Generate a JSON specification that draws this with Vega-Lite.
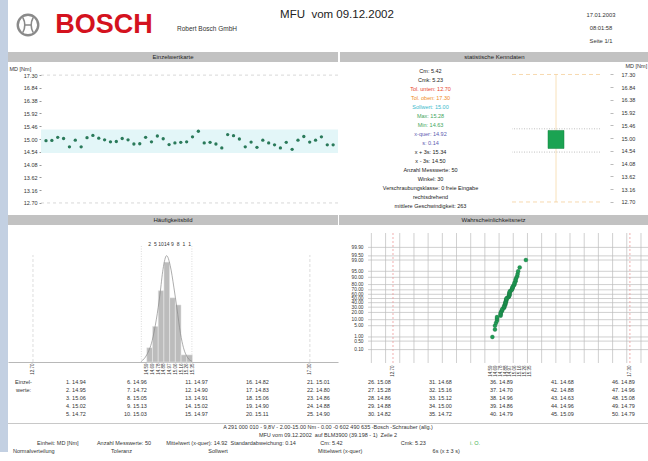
{
"$schema":"https://vega.github.io/schema/vega-lite/v6.json",
"padding":0,
"background":"#ffffff",
"spacing":0,
"config":{
 "view":{"stroke":null},
 "font":"Liberation Sans",
 "text":{"font":"Liberation Sans","color":"#333333"},
 "axis":{"labelFont":"Liberation Sans","titleFont":"Liberation Sans","labelColor":"#333333","titleColor":"#333333","labelFontSize":5.5,"titleFontSize":5.5,"titleFontWeight":"normal","domain":false,"ticks":false,"grid":false,"labelOverlap":false,"labelFlush":false,"labelBound":false,"minExtent":0}
},
"datasets":{
 "mw":[
  {"n":1,"id":"1.","v":14.94},{"n":2,"id":"2.","v":14.95},{"n":3,"id":"3.","v":15.06},{"n":4,"id":"4.","v":15.02},{"n":5,"id":"5.","v":14.72},
  {"n":6,"id":"6.","v":14.96},{"n":7,"id":"7.","v":14.72},{"n":8,"id":"8.","v":15.05},{"n":9,"id":"9.","v":15.13},{"n":10,"id":"10.","v":15.03},
  {"n":11,"id":"11.","v":14.97},{"n":12,"id":"12.","v":14.90},{"n":13,"id":"13.","v":14.91},{"n":14,"id":"14.","v":15.02},{"n":15,"id":"15.","v":14.97},
  {"n":16,"id":"16.","v":14.82},{"n":17,"id":"17.","v":14.83},{"n":18,"id":"18.","v":15.06},{"n":19,"id":"19.","v":14.90},{"n":20,"id":"20.","v":15.11},
  {"n":21,"id":"21.","v":15.01},{"n":22,"id":"22.","v":14.80},{"n":23,"id":"23.","v":14.86},{"n":24,"id":"24.","v":14.88},{"n":25,"id":"25.","v":14.90},
  {"n":26,"id":"26.","v":15.08},{"n":27,"id":"27.","v":15.28},{"n":28,"id":"28.","v":14.86},{"n":29,"id":"29.","v":14.88},{"n":30,"id":"30.","v":14.82},
  {"n":31,"id":"31.","v":14.68},{"n":32,"id":"32.","v":15.16},{"n":33,"id":"33.","v":15.12},{"n":34,"id":"34.","v":15.00},{"n":35,"id":"35.","v":14.72},
  {"n":36,"id":"36.","v":14.89},{"n":37,"id":"37.","v":14.70},{"n":38,"id":"38.","v":14.96},{"n":39,"id":"39.","v":14.86},{"n":40,"id":"40.","v":14.79},
  {"n":41,"id":"41.","v":14.68},{"n":42,"id":"42.","v":14.88},{"n":43,"id":"43.","v":14.63},{"n":44,"id":"44.","v":14.96},{"n":45,"id":"45.","v":15.09},
  {"n":46,"id":"46.","v":14.89},{"n":47,"id":"47.","v":14.96},{"n":48,"id":"48.","v":15.08},{"n":49,"id":"49.","v":14.79},{"n":50,"id":"50.","v":14.79}
 ],
 "stats":[
  {"i":1,"t":"Cm: 5.42","g":"k"},{"i":2,"t":"Cmk: 5.23","g":"k"},{"i":3,"t":"Tol. unten: 12.70","g":"r"},{"i":4,"t":"Tol. oben: 17.30","g":"o"},
  {"i":5,"t":"Sollwert: 15.00","g":"c"},{"i":6,"t":"Max: 15.28","g":"g"},{"i":7,"t":"Min: 14.63","g":"g"},{"i":8,"t":"x-quer: 14.92","g":"b"},
  {"i":9,"t":"s: 0.14","g":"b"},{"i":10,"t":"x + 3s: 15.34","g":"k"},{"i":11,"t":"x - 3s: 14.50","g":"k"},{"i":12,"t":"Anzahl Messwerte: 50","g":"k"},
  {"i":13,"t":"Winkel: 30","g":"k"},{"i":14,"t":"Verschraubungsklasse: 0 freie Eingabe","g":"k"},{"i":15,"t":"rechtsdrehend","g":"k"},{"i":16,"t":"mittlere Geschwindigkeit: 263","g":"k"}
 ],
 "hist":[
  {"x0":14.59,"x1":14.685,"m":14.6375,"c":2},{"x0":14.685,"x1":14.78,"m":14.7325,"c":5},{"x0":14.78,"x1":14.875,"m":14.8275,"c":10},{"x0":14.875,"x1":14.97,"m":14.9225,"c":14},
  {"x0":14.97,"x1":15.065,"m":15.0175,"c":9},{"x0":15.065,"x1":15.16,"m":15.1125,"c":8},{"x0":15.16,"x1":15.255,"m":15.2075,"c":1},{"x0":15.255,"x1":15.35,"m":15.3025,"c":1}
 ],
 "curve":[
  {"v":14.50,"d":0.1},{"v":14.59,"d":1.0},{"v":14.68,"d":3.0},{"v":14.75,"d":6.0},{"v":14.81,"d":9.5},{"v":14.86,"d":13.0},{"v":14.92,"d":14.9},
  {"v":14.98,"d":13.5},{"v":15.04,"d":10.5},{"v":15.09,"d":7.6},{"v":15.15,"d":4.0},{"v":15.20,"d":2.0},{"v":15.27,"d":0.6},{"v":15.34,"d":0.1}
 ],
 "prob":[
  {"v":14.63,"z":-2.326},{"v":14.68,"z":-1.881},{"v":14.68,"z":-1.645},{"v":14.70,"z":-1.476},{"v":14.72,"z":-1.341},
  {"v":14.72,"z":-1.227},{"v":14.72,"z":-1.126},{"v":14.79,"z":-1.036},{"v":14.79,"z":-0.954},{"v":14.79,"z":-0.878},
  {"v":14.80,"z":-0.806},{"v":14.82,"z":-0.739},{"v":14.82,"z":-0.674},{"v":14.83,"z":-0.613},{"v":14.86,"z":-0.553},
  {"v":14.86,"z":-0.496},{"v":14.86,"z":-0.440},{"v":14.88,"z":-0.385},{"v":14.88,"z":-0.332},{"v":14.88,"z":-0.279},
  {"v":14.89,"z":-0.228},{"v":14.89,"z":-0.176},{"v":14.90,"z":-0.126},{"v":14.90,"z":-0.075},{"v":14.90,"z":-0.025},
  {"v":14.91,"z":0.025},{"v":14.94,"z":0.075},{"v":14.95,"z":0.126},{"v":14.96,"z":0.176},{"v":14.96,"z":0.228},
  {"v":14.96,"z":0.279},{"v":14.96,"z":0.332},{"v":14.97,"z":0.385},{"v":14.97,"z":0.440},{"v":15.00,"z":0.496},
  {"v":15.01,"z":0.553},{"v":15.02,"z":0.613},{"v":15.02,"z":0.674},{"v":15.03,"z":0.739},{"v":15.05,"z":0.806},
  {"v":15.06,"z":0.878},{"v":15.06,"z":0.954},{"v":15.08,"z":1.036},{"v":15.08,"z":1.126},{"v":15.09,"z":1.227},
  {"v":15.11,"z":1.341},{"v":15.12,"z":1.476},{"v":15.13,"z":1.645},{"v":15.16,"z":1.881},{"v":15.28,"z":2.326}
 ],
 "gx":[
  {"g":12.28},{"g":12.556},{"g":12.831},{"g":13.107},{"g":13.382},{"g":13.658},{"g":13.933},{"g":14.209},{"g":14.484},{"g":14.76},
  {"g":15.035},{"g":15.311},{"g":15.586},{"g":15.862},{"g":16.137},{"g":16.413},{"g":16.688},{"g":16.964},{"g":17.239},{"g":17.515}
 ],
 "gy":[
  {"z":-3.09},{"z":-2.576},{"z":-2.326},{"z":-1.645},{"z":-1.2816},{"z":-0.8416},{"z":-0.5244},{"z":-0.2533},{"z":0},
  {"z":0.2533},{"z":0.5244},{"z":0.8416},{"z":1.2816},{"z":1.645},{"z":2.326},{"z":2.576},{"z":3.09}
 ]
},
"hconcat":[
 {"width":8,"height":452,"view":{"fill":"#c3d0e2"},"data":{"values":[{}]},"mark":{"type":"text","text":"","fontSize":0.5},"encoding":{}},
 {"spacing":0,"vconcat":[
  {"spacing":0,"hconcat":[
   {"width":40,"height":52,"data":{"values":[{}]},"layer":[
     {"mark":{"type":"point","shape":"circle","size":420,"filled":false,"stroke":"#8a8a8a","strokeWidth":2.4,"opacity":1,"yOffset":-1},"encoding":{}},
     {"mark":{"type":"point","shape":"M-0.5,-0.72 C-0.28,-0.3 -0.28,0.3 -0.5,0.72 M0.5,-0.72 C0.28,-0.3 0.28,0.3 0.5,0.72 M-0.36,0 L0.36,0","size":420,"filled":false,"stroke":"#8a8a8a","strokeWidth":1.6,"opacity":1,"yOffset":-1},"encoding":{}}
   ]},
   {"width":112,"height":52,"data":{"values":[{"t":"BOSCH"}]},"mark":{"type":"text","fontSize":27,"fontWeight":"bold","color":"#d4121e","dy":-1},"encoding":{"text":{"field":"t"}}},
   {"width":94,"height":52,"data":{"values":[{"t":"Robert Bosch GmbH"}]},"mark":{"type":"text","fontSize":6.5,"color":"#333333","dy":3},"encoding":{"text":{"field":"t"}}},
   {"width":166,"height":52,"data":{"values":[{"t":"MFU\u00a0 vom 09.12.2002"}]},"mark":{"type":"text","fontSize":11.5,"color":"#222222","dy":-11},"encoding":{"text":{"field":"t"}}},
   {"width":161,"height":52,"data":{"values":[{}]},"mark":{"type":"text","text":"","fontSize":0.5},"encoding":{}},
   {"width":40,"height":52,"data":{"values":[{"i":1,"t":"17.01.2003"},{"i":2,"t":"08:01:58"},{"i":3,"t":"Seite 1/1"}]},"mark":{"type":"text","fontSize":5.8,"color":"#333333","dy":1.5},"encoding":{"y":{"field":"i","type":"ordinal","axis":null,"scale":{"type":"point","padding":1.74}},"text":{"field":"t"}}}
  ]},
  {"spacing":1,"hconcat":[
   {"spacing":2,"vconcat":[
    {"width":330,"height":10,"view":{"fill":"#c2c2c2"},"data":{"values":[{"t":"Einzelwertkarte"}]},"mark":{"type":"text","fontSize":6,"color":"#222222"},"encoding":{"text":{"field":"t"}}},
    {"width":330,"height":147,"layer":[
     {"data":{"values":[{"lo":14.50,"hi":15.34}]},"mark":{"type":"rect","color":"#e3f6f8"},"encoding":{
       "x":{"datum":0.15,"type":"quantitative","scale":{"domain":[-5.485,50.83],"nice":false,"zero":false},"axis":null},"x2":{"datum":50.83},
       "y":{"field":"lo","type":"quantitative","scale":{"domain":[12.41,17.70],"nice":false,"zero":false},"axis":{"values":[12.70,13.16,13.62,14.08,14.54,15.00,15.46,15.92,16.38,16.84,17.30],"format":".2f","ticks":true,"tickSize":2,"tickColor":"#999999","labelPadding":2,"offset":-33,"title":"MD [Nm]","titleAngle":0,"titleX":-32,"titleY":4,"titleAlign":"left","titleBaseline":"middle"}},"y2":{"field":"hi"}}},
     {"data":{"values":[{"y":12.70},{"y":17.30}]},"mark":{"type":"rule","color":"#bdbdbd","strokeWidth":0.6,"strokeDash":[3,3]},"encoding":{
       "x":{"datum":0.15,"type":"quantitative","scale":{"domain":[-5.485,50.83],"nice":false,"zero":false},"axis":null},"x2":{"datum":50.83},
       "y":{"field":"y","type":"quantitative","scale":{"domain":[12.41,17.70],"nice":false,"zero":false},"axis":{"values":[12.70,13.16,13.62,14.08,14.54,15.00,15.46,15.92,16.38,16.84,17.30],"format":".2f","ticks":true,"tickSize":2,"tickColor":"#999999","labelPadding":2,"offset":-33,"title":"MD [Nm]","titleAngle":0,"titleX":-32,"titleY":4,"titleAlign":"left","titleBaseline":"middle"}}}},
     {"data":{"name":"mw"},"mark":{"type":"circle","size":11,"color":"#2a7a5a","opacity":1},"encoding":{
       "x":{"field":"n","type":"quantitative","scale":{"domain":[-5.485,50.83],"nice":false,"zero":false},"axis":null},
       "y":{"field":"v","type":"quantitative","scale":{"domain":[12.41,17.70],"nice":false,"zero":false},"axis":{"values":[12.70,13.16,13.62,14.08,14.54,15.00,15.46,15.92,16.38,16.84,17.30],"format":".2f","ticks":true,"tickSize":2,"tickColor":"#999999","labelPadding":2,"offset":-33,"title":"MD [Nm]","titleAngle":0,"titleX":-32,"titleY":4,"titleAlign":"left","titleBaseline":"middle"}}}}
    ]}
   ]},
   {"spacing":0,"vconcat":[
    {"width":309,"height":10,"view":{"fill":"#c2c2c2"},"data":{"values":[{"t":"statistische Kenndaten"}]},"mark":{"type":"text","fontSize":6,"color":"#222222"},"encoding":{"text":{"field":"t"}}},
    {"spacing":0,"hconcat":[
     {"width":171,"height":153,"data":{"name":"stats"},"mark":{"type":"text","fontSize":5.5,"dx":5},"encoding":{
       "y":{"field":"i","type":"ordinal","axis":null,"scale":{"type":"point","padding":1.07}},
       "text":{"field":"t"},
       "color":{"field":"g","type":"nominal","legend":null,"scale":{"domain":["k","r","o","c","g","b"],"range":["#222222","#e8452c","#f08a24","#3bb9cc","#3fa65c","#5b5bb0"]}}}},
     {"width":88,"height":153,"layer":[
      {"data":{"values":[{"k":"a","lo":12.70,"hi":17.30}]},"mark":{"type":"rule","color":"#f6d9a8","strokeWidth":0.8},"encoding":{"x":{"field":"k","type":"nominal","axis":null},"y":{"field":"lo","type":"quantitative","scale":{"domain":[12.23,17.75],"nice":false,"zero":false},"axis":{"orient":"right","values":[12.70,13.16,13.62,14.08,14.54,15.00,15.46,15.92,16.38,16.84,17.30],"format":".2f","ticks":true,"tickSize":3,"tickColor":"#bbbbbb","labelPadding":8,"offset":10,"minExtent":40,"maxExtent":40,"title":"MD [Nm]","titleAngle":0,"titleX":15,"titleY":3,"titleAlign":"left","titleBaseline":"middle"}},"y2":{"field":"hi"}}},
      {"data":{"values":[{"y":12.70},{"y":17.30}]},"mark":{"type":"rule","color":"#f3c98c","strokeWidth":0.7,"strokeDash":[4,3]},"encoding":{"y":{"field":"y","type":"quantitative","scale":{"domain":[12.23,17.75],"nice":false,"zero":false},"axis":{"orient":"right","values":[12.70,13.16,13.62,14.08,14.54,15.00,15.46,15.92,16.38,16.84,17.30],"format":".2f","ticks":true,"tickSize":3,"tickColor":"#bbbbbb","labelPadding":8,"offset":10,"minExtent":40,"maxExtent":40,"title":"MD [Nm]","titleAngle":0,"titleX":15,"titleY":3,"titleAlign":"left","titleBaseline":"middle"}}}},
      {"data":{"values":[{"y":14.50},{"y":15.34}]},"mark":{"type":"rule","color":"#a8a8a8","strokeWidth":0.7,"strokeDash":[1,1.5]},"encoding":{"y":{"field":"y","type":"quantitative","scale":{"domain":[12.23,17.75],"nice":false,"zero":false},"axis":{"orient":"right","values":[12.70,13.16,13.62,14.08,14.54,15.00,15.46,15.92,16.38,16.84,17.30],"format":".2f","ticks":true,"tickSize":3,"tickColor":"#bbbbbb","labelPadding":8,"offset":10,"minExtent":40,"maxExtent":40,"title":"MD [Nm]","titleAngle":0,"titleX":15,"titleY":3,"titleAlign":"left","titleBaseline":"middle"}}}},
      {"data":{"values":[{"k":"a","lo":14.63,"hi":15.28}]},"mark":{"type":"bar","width":16,"color":"#1ba352","stroke":"#12803e","strokeWidth":0.5},"encoding":{"x":{"field":"k","type":"nominal","axis":null},
        "y":{"field":"lo","type":"quantitative","scale":{"domain":[12.23,17.75],"nice":false,"zero":false},"axis":{"orient":"right","values":[12.70,13.16,13.62,14.08,14.54,15.00,15.46,15.92,16.38,16.84,17.30],"format":".2f","ticks":true,"tickSize":3,"tickColor":"#bbbbbb","labelPadding":8,"offset":10,"minExtent":40,"maxExtent":40,"title":"MD [Nm]","titleAngle":0,"titleX":15,"titleY":3,"titleAlign":"left","titleBaseline":"middle"}},
        "y2":{"field":"hi"}}}
     ]}
    ]}
   ]}
  ]},
  {"spacing":1,"hconcat":[
   {"spacing":0,"vconcat":[
    {"width":330,"height":10,"view":{"fill":"#c2c2c2"},"data":{"values":[{"t":"Häufigkeitsbild"}]},"mark":{"type":"text","fontSize":6,"color":"#222222"},"encoding":{"text":{"field":"t"}}},
    {"width":330,"height":137,"layer":[
     {"data":{"values":[{"v":12.70},{"v":17.30}]},"mark":{"type":"rule","color":"#c4c4c4","strokeWidth":0.6,"strokeDash":[3,2]},"encoding":{"x":{"field":"v","type":"quantitative","scale":{"domain":[12.285,17.767],"nice":false,"zero":false},"axis":{"orient":"bottom","values":[12.70,14.59,14.685,14.78,14.875,14.97,15.065,15.16,15.255,15.35,17.30],"format":".2f","labelAngle":-90,"labelFontSize":4.5,"labelPadding":1,"domain":true,"domainColor":"#9a9a9a","domainWidth":0.7,"title":null}},"y":{"datum":0,"type":"quantitative","scale":{"domain":[0,19.2],"nice":false,"zero":false},"axis":null},"y2":{"datum":15}}},
     {"data":{"values":[{"v":14.50},{"v":15.34}]},"mark":{"type":"rule","color":"#c4c4c4","strokeWidth":0.6,"strokeDash":[1,1.5]},"encoding":{"x":{"field":"v","type":"quantitative","scale":{"domain":[12.285,17.767],"nice":false,"zero":false},"axis":{"orient":"bottom","values":[12.70,14.59,14.685,14.78,14.875,14.97,15.065,15.16,15.255,15.35,17.30],"format":".2f","labelAngle":-90,"labelFontSize":4.5,"labelPadding":1,"domain":true,"domainColor":"#9a9a9a","domainWidth":0.7,"title":null}},"y":{"datum":0,"type":"quantitative","scale":{"domain":[0,19.2],"nice":false,"zero":false},"axis":null},"y2":{"datum":16.4}}},
     {"data":{"name":"hist"},"mark":{"type":"rect","color":"#bcbcbc","stroke":"#ededed","strokeWidth":0.5},"encoding":{
       "x":{"field":"x0","type":"quantitative","scale":{"domain":[12.285,17.767],"nice":false,"zero":false},"axis":{"orient":"bottom","values":[12.70,14.59,14.685,14.78,14.875,14.97,15.065,15.16,15.255,15.35,17.30],"format":".2f","labelAngle":-90,"labelFontSize":4.5,"labelPadding":1,"domain":true,"domainColor":"#9a9a9a","domainWidth":0.7,"title":null}},
       "x2":{"field":"x1"},
       "y":{"field":"c","type":"quantitative","scale":{"domain":[0,19.2],"nice":false,"zero":false},"axis":null},
       "y2":{"datum":0}}},
     {"data":{"name":"curve"},"mark":{"type":"line","color":"#8a8a8a","strokeWidth":0.7,"interpolate":"monotone"},"encoding":{"x":{"field":"v","type":"quantitative","scale":{"domain":[12.285,17.767],"nice":false,"zero":false},"axis":{"orient":"bottom","values":[12.70,14.59,14.685,14.78,14.875,14.97,15.065,15.16,15.255,15.35,17.30],"format":".2f","labelAngle":-90,"labelFontSize":4.5,"labelPadding":1,"domain":true,"domainColor":"#9a9a9a","domainWidth":0.7,"title":null}},"y":{"field":"d","type":"quantitative","scale":{"domain":[0,19.2],"nice":false,"zero":false},"axis":null}}},
     {"data":{"name":"hist"},"mark":{"type":"text","fontSize":5,"color":"#333333"},"encoding":{"x":{"field":"m","type":"quantitative","scale":{"domain":[12.285,17.767],"nice":false,"zero":false},"axis":{"orient":"bottom","values":[12.70,14.59,14.685,14.78,14.875,14.97,15.065,15.16,15.255,15.35,17.30],"format":".2f","labelAngle":-90,"labelFontSize":4.5,"labelPadding":1,"domain":true,"domainColor":"#9a9a9a","domainWidth":0.7,"title":null}},"y":{"datum":16.6,"type":"quantitative","scale":{"domain":[0,19.2],"nice":false,"zero":false},"axis":null},"text":{"field":"c"}}}
    ]}
   ]},
   {"spacing":7,"vconcat":[
    {"width":309,"height":10,"view":{"fill":"#c2c2c2"},"data":{"values":[{"t":"Wahrscheinlichkeitsnetz"}]},"mark":{"type":"text","fontSize":6,"color":"#222222"},"encoding":{"text":{"field":"t"}}},
    {"width":309,"height":130,"layer":[
     {"data":{"name":"gx"},"mark":{"type":"rule","color":"#bcbcbc","strokeWidth":0.7},"encoding":{"x":{"field":"g","type":"quantitative","scale":{"domain":[11.6515,17.6515],"nice":false,"zero":false},"axis":{"orient":"bottom","values":[12.70,14.59,14.685,14.78,14.875,14.97,15.065,15.16,15.255,15.35,17.30],"format":".2f","labelAngle":-90,"labelFontSize":4.5,"labelPadding":2,"title":null}}}},
     {"data":{"name":"gy"},"mark":{"type":"rule","color":"#bcbcbc","strokeWidth":0.7},"encoding":{
       "x":{"datum":12.215,"type":"quantitative","scale":{"domain":[11.6515,17.6515],"nice":false,"zero":false},"axis":{"orient":"bottom","values":[12.70,14.59,14.685,14.78,14.875,14.97,15.065,15.16,15.255,15.35,17.30],"format":".2f","labelAngle":-90,"labelFontSize":4.5,"labelPadding":2,"title":null}},"x2":{"datum":17.6515},
       "y":{"field":"z","type":"quantitative","scale":{"domain":[-3.9,3.96],"nice":false,"zero":false},"axis":{"values":[-3.09,-2.576,-2.326,-1.645,-1.2816,-0.8416,-0.5244,-0.2533,0,0.2533,0.5244,0.8416,1.2816,1.645,2.326,2.576,3.09],"labelExpr":"['0.10','0.50','1.00','5.00','10.00','20.00','30.00','40.00','50.00','60.00','70.00','80.00','90.00','95.00','99.00','99.50','99.90'][indexof([-3.09,-2.576,-2.326,-1.645,-1.2816,-0.8416,-0.5244,-0.2533,0,0.2533,0.5244,0.8416,1.2816,1.645,2.326,2.576,3.09],datum.value)]","labelFontSize":4.8,"labelPadding":5,"offset":-29,"title":null}}}},
     {"data":{"values":[{"v":12.70},{"v":17.30}]},"mark":{"type":"rule","color":"#ee9a9a","strokeWidth":0.8,"strokeDash":[2,2]},"encoding":{"x":{"field":"v","type":"quantitative","scale":{"domain":[11.6515,17.6515],"nice":false,"zero":false},"axis":{"orient":"bottom","values":[12.70,14.59,14.685,14.78,14.875,14.97,15.065,15.16,15.255,15.35,17.30],"format":".2f","labelAngle":-90,"labelFontSize":4.5,"labelPadding":2,"title":null}}}},
     {"data":{"name":"prob"},"mark":{"type":"circle","size":16,"color":"#1f9d55","stroke":"#155e34","strokeWidth":0.3,"opacity":1},"encoding":{
       "x":{"field":"v","type":"quantitative","scale":{"domain":[11.6515,17.6515],"nice":false,"zero":false},"axis":{"orient":"bottom","values":[12.70,14.59,14.685,14.78,14.875,14.97,15.065,15.16,15.255,15.35,17.30],"format":".2f","labelAngle":-90,"labelFontSize":4.5,"labelPadding":2,"title":null}},
       "y":{"field":"z","type":"quantitative","scale":{"domain":[-3.9,3.96],"nice":false,"zero":false},"axis":{"values":[-3.09,-2.576,-2.326,-1.645,-1.2816,-0.8416,-0.5244,-0.2533,0,0.2533,0.5244,0.8416,1.2816,1.645,2.326,2.576,3.09],"labelExpr":"['0.10','0.50','1.00','5.00','10.00','20.00','30.00','40.00','50.00','60.00','70.00','80.00','90.00','95.00','99.00','99.50','99.90'][indexof([-3.09,-2.576,-2.326,-1.645,-1.2816,-0.8416,-0.5244,-0.2533,0,0.2533,0.5244,0.8416,1.2816,1.645,2.326,2.576,3.09],datum.value)]","labelFontSize":4.8,"labelPadding":5,"offset":-29,"title":null}}}}
    ]}
   ]}
  ]},
  {"spacing":0,"hconcat":[
   {"width":31,"height":46,"data":{"values":[{"t":"Einzel-","r":1},{"t":"werte:","r":2}]},"mark":{"type":"text","fontSize":5.5,"color":"#333333","dy":-2},"encoding":{"y":{"field":"r","type":"ordinal","axis":null,"scale":{"type":"point","domain":[1,2,3,4,5],"padding":0.875}},"text":{"field":"t"}}},
   {"width":597,"height":46,"data":{"name":"mw"},"transform":[
     {"bin":{"step":5,"anchor":0.5,"nice":false},"field":"n","as":"c0"},
     {"window":[{"op":"row_number","as":"rw"}],"groupby":["c0"],"sort":[{"field":"n","order":"ascending"}]}
    ],"layer":[
     {"mark":{"type":"text","fontSize":5.5,"color":"#333333","align":"right","dx":7.6,"dy":-2},"encoding":{"x":{"field":"c0","type":"ordinal","axis":null,"scale":{"type":"point","padding":0.393}},"y":{"field":"rw","type":"ordinal","axis":null,"scale":{"type":"point","padding":0.875}},"text":{"field":"id"}}},
     {"mark":{"type":"text","fontSize":5.5,"color":"#333333","align":"left","dx":9.1,"dy":-2},"encoding":{"x":{"field":"c0","type":"ordinal","axis":null,"scale":{"type":"point","padding":0.393}},"y":{"field":"rw","type":"ordinal","axis":null,"scale":{"type":"point","padding":0.875}},"text":{"field":"v","type":"quantitative","format":".2f"}}}
    ]}
  ]},
  {"width":640,"height":1,"view":{"fill":"#c8c8c8"},"data":{"values":[{}]},"mark":{"type":"text","text":"","fontSize":0.5},"encoding":{}},
  {"width":640,"height":34,"layer":[
   {"data":{"values":[{"l":1,"t":"A 291 000 010 - 9,8V - 2.00-15.00 Nm - 0.00 -0 602 490 635 -Bosch -Schrauber (allg.)"},{"l":2,"t":"MFU vom 09.12.2002\u00a0 auf BLM3900 (39.198 - 1)\u00a0 Zeile 2"}]},"mark":{"type":"text","fontSize":5.5,"color":"#333333","dy":-2},"encoding":{"y":{"field":"l","type":"ordinal","axis":null,"scale":{"type":"point","domain":[1,2,3,4],"padding":0.625}},"text":{"field":"t"}}},
   {"data":{"values":[{"l":3,"t":"Einheit: MD [Nm]\u00a0\u00a0\u00a0\u00a0\u00a0\u00a0\u00a0\u00a0\u00a0\u00a0\u00a0\u00a0Anzahl Messwerte: 50\u00a0\u00a0\u00a0\u00a0\u00a0\u00a0\u00a0\u00a0\u00a0\u00a0Mittelwert (x-quer): 14.92\u00a0\u00a0Standardabweichung: 0.14\u00a0\u00a0\u00a0\u00a0\u00a0\u00a0\u00a0\u00a0\u00a0\u00a0\u00a0\u00a0\u00a0\u00a0\u00a0\u00a0Cm: 5.42\u00a0\u00a0\u00a0\u00a0\u00a0\u00a0\u00a0\u00a0\u00a0\u00a0\u00a0\u00a0\u00a0\u00a0\u00a0\u00a0\u00a0\u00a0\u00a0\u00a0\u00a0\u00a0\u00a0\u00a0\u00a0\u00a0\u00a0\u00a0\u00a0\u00a0\u00a0\u00a0\u00a0\u00a0\u00a0\u00a0\u00a0\u00a0Cmk: 5.23"}]},"mark":{"type":"text","fontSize":5.5,"color":"#333333","dy":-2,"align":"left","dx":-291},"encoding":{"y":{"field":"l","type":"ordinal","axis":null,"scale":{"type":"point","domain":[1,2,3,4],"padding":0.625}},"text":{"field":"t"}}},
   {"data":{"values":[{"l":4,"t":"Normalverteilung\u00a0\u00a0\u00a0\u00a0\u00a0\u00a0\u00a0\u00a0\u00a0\u00a0\u00a0\u00a0\u00a0\u00a0\u00a0\u00a0\u00a0\u00a0\u00a0\u00a0\u00a0\u00a0\u00a0\u00a0\u00a0\u00a0\u00a0\u00a0\u00a0\u00a0\u00a0\u00a0\u00a0\u00a0\u00a0\u00a0\u00a0Toleranz\u00a0\u00a0\u00a0\u00a0\u00a0\u00a0\u00a0\u00a0\u00a0\u00a0\u00a0\u00a0\u00a0\u00a0\u00a0\u00a0\u00a0\u00a0\u00a0\u00a0\u00a0\u00a0\u00a0\u00a0\u00a0\u00a0\u00a0\u00a0\u00a0\u00a0\u00a0\u00a0\u00a0\u00a0\u00a0\u00a0\u00a0\u00a0\u00a0\u00a0\u00a0\u00a0\u00a0\u00a0\u00a0\u00a0\u00a0\u00a0\u00a0\u00a0Sollwert\u00a0\u00a0\u00a0\u00a0\u00a0\u00a0\u00a0\u00a0\u00a0\u00a0\u00a0\u00a0\u00a0\u00a0\u00a0\u00a0\u00a0\u00a0\u00a0\u00a0\u00a0\u00a0\u00a0\u00a0\u00a0\u00a0\u00a0\u00a0\u00a0\u00a0\u00a0\u00a0\u00a0\u00a0\u00a0\u00a0\u00a0\u00a0\u00a0\u00a0\u00a0\u00a0\u00a0\u00a0\u00a0\u00a0\u00a0\u00a0\u00a0\u00a0\u00a0\u00a0\u00a0\u00a0\u00a0\u00a0\u00a0\u00a0\u00a0Mittelwert (x-quer)\u00a0\u00a0\u00a0\u00a0\u00a0\u00a0\u00a0\u00a0\u00a0\u00a0\u00a0\u00a0\u00a0\u00a0\u00a0\u00a0\u00a0\u00a0\u00a0\u00a0\u00a0\u00a0\u00a0\u00a0\u00a0\u00a0\u00a0\u00a0\u00a0\u00a0\u00a0\u00a0\u00a0\u00a0\u00a0\u00a0\u00a0\u00a0\u00a0\u00a0\u00a0\u00a0\u00a0\u00a0\u00a0\u00a06s (x ± 3 s)"}]},"mark":{"type":"text","fontSize":5.5,"color":"#333333","dy":-2,"align":"left","dx":-315},"encoding":{"y":{"field":"l","type":"ordinal","axis":null,"scale":{"type":"point","domain":[1,2,3,4],"padding":0.625}},"text":{"field":"t"}}},
   {"data":{"values":[{"l":3,"t":"i. O."}]},"mark":{"type":"text","fontSize":5.5,"color":"#3fb04f","dy":-2,"align":"left","dx":142},"encoding":{"y":{"field":"l","type":"ordinal","axis":null,"scale":{"type":"point","domain":[1,2,3,4],"padding":0.625}},"text":{"field":"t"}}}
  ]}
 ]}
]
}
